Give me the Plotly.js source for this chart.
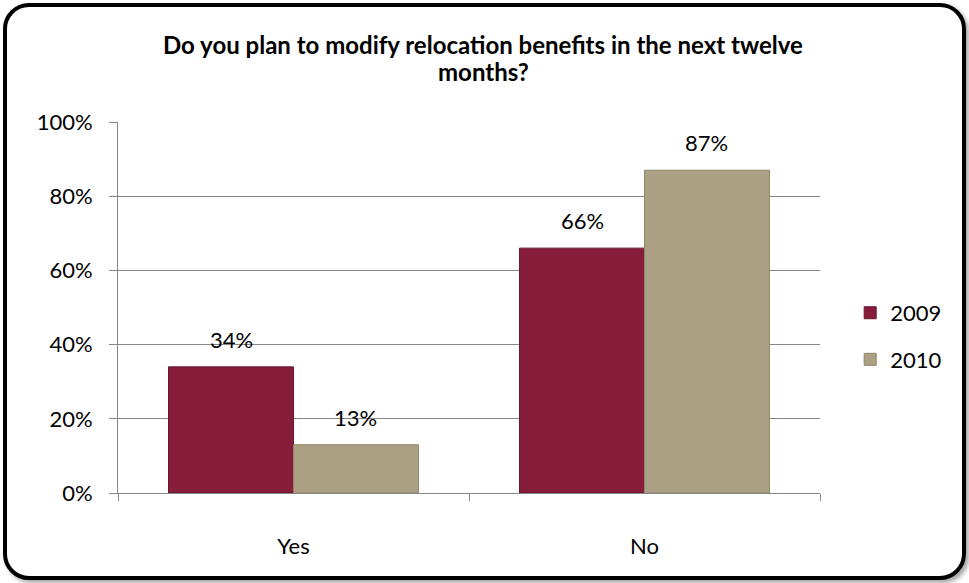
<!DOCTYPE html>
<html>
<head>
<meta charset="utf-8">
<script src="https://cdn.plot.ly/plotly-3.0.1.min.js"></script>
<style>
  html, body { margin: 0; padding: 0; background: #fff; }
  #wrap { position: relative; width: 969px; height: 583px; }
  #chart { position: absolute; left: 0; top: 0; width: 969px; height: 583px; }
  #frame { position: absolute; left: 3px; top: 3px; width: 955px; height: 569px;
           border: 4px solid #000; border-radius: 26px; pointer-events: none;
           box-shadow: 3px 3px 4px rgba(0,0,0,0.35); }
</style>
</head>
<body>
<div id="wrap">
  <div id="chart"></div>
  <div id="frame"></div>
</div>
<script>
const categories = ["Yes", "No"];
const seriesNames = ["2009", "2010"];
const values2009 = [0.34, 0.66];
const values2010 = [0.13, 0.87];
const yTickVals = [0, 0.2, 0.4, 0.6, 0.8, 1.0];
const yTickText = ["0%", "20%", "40%", "60%", "80%", "100%"];
const titleLines = ["Do you plan to modify relocation benefits in the next twelve", "months?"];

const FONT = "Lato, 'Open Sans', sans-serif";
const colors = ["#861d3b", "#aba083"];
const lineColors = ["#6a1530", "#8f8567"];
const BARGAP = 0.288;
const PLOT_W = 969 - 118 - 149;

function pct(v) { return Math.round(v * 100) + "%"; }

const allSeries = [values2009, values2010];

const traces = allSeries.map((vals, i) => ({
  type: "bar",
  name: seriesNames[i],
  legendgroup: "g" + i,
  x: categories,
  y: vals,
  marker: { color: colors[i], line: { color: lineColors[i], width: 1 } },
  hoverinfo: "skip"
}));

// data labels as annotations, positioned via the axes
const barPx = PLOT_W / categories.length * (1 - BARGAP) / allSeries.length;
const annotations = [];
allSeries.forEach((vals, i) => {
  vals.forEach((v, j) => {
    annotations.push({
      x: categories[j], y: v, xref: "x", yref: "y",
      text: pct(v), showarrow: false,
      xanchor: "center", yanchor: "bottom",
      xshift: (i - (allSeries.length - 1) / 2) * barPx,
      yshift: 12,
      font: { family: FONT, size: 22, color: "#000" }
    });
  });
});
// title as two lines
titleLines.forEach((t, k) => {
  annotations.push({
    x: 0.52, y: k === 0 ? 1.208 : 1.135, xref: "paper", yref: "paper",
    text: "<b>" + t + "</b>", showarrow: false,
    xanchor: "center", yanchor: "middle",
    font: { family: FONT, size: 24, color: "#000" }
  });
});

const layout = {
  width: 969, height: 583,
  paper_bgcolor: "#fff", plot_bgcolor: "#fff",
  margin: { l: 118, r: 149, t: 122, b: 90 },
  font: { family: FONT, size: 22, color: "#000" },
  barmode: "group",
  bargap: BARGAP,
  bargroupgap: 0,
  showlegend: true,
  legend: {
    x: 1.043, xanchor: "left", y: 0.422, yanchor: "middle",
    font: { family: FONT, size: 22, color: "#000" },
    traceorder: "grouped",
    itemwidth: 30, tracegroupgap: 15, bgcolor: "rgba(0,0,0,0)"
  },
  annotations: annotations,
  xaxis: {
    type: "category",
    showline: true, linecolor: "#868686", linewidth: 1,
    ticks: "outside", tickson: "boundaries", ticklen: 7, tickcolor: "#868686",
    showgrid: false, zeroline: false,
    tickfont: { family: FONT, size: 22, color: "#000" },
    ticklabelstandoff: 34
  },
  yaxis: {
    range: [0, 1],
    tickvals: yTickVals, ticktext: yTickText,
    showline: true, linecolor: "#868686", linewidth: 1,
    ticks: "outside", ticklen: 8, tickcolor: "#868686",
    showgrid: true, gridcolor: "#868686", gridwidth: 1,
    zeroline: false,
    tickfont: { family: FONT, size: 22, color: "#000" },
    ticklabelstandoff: 12
  }
};

Plotly.newPlot("chart", traces, layout, { displayModeBar: false, staticPlot: true });
</script>
</body>
</html>
